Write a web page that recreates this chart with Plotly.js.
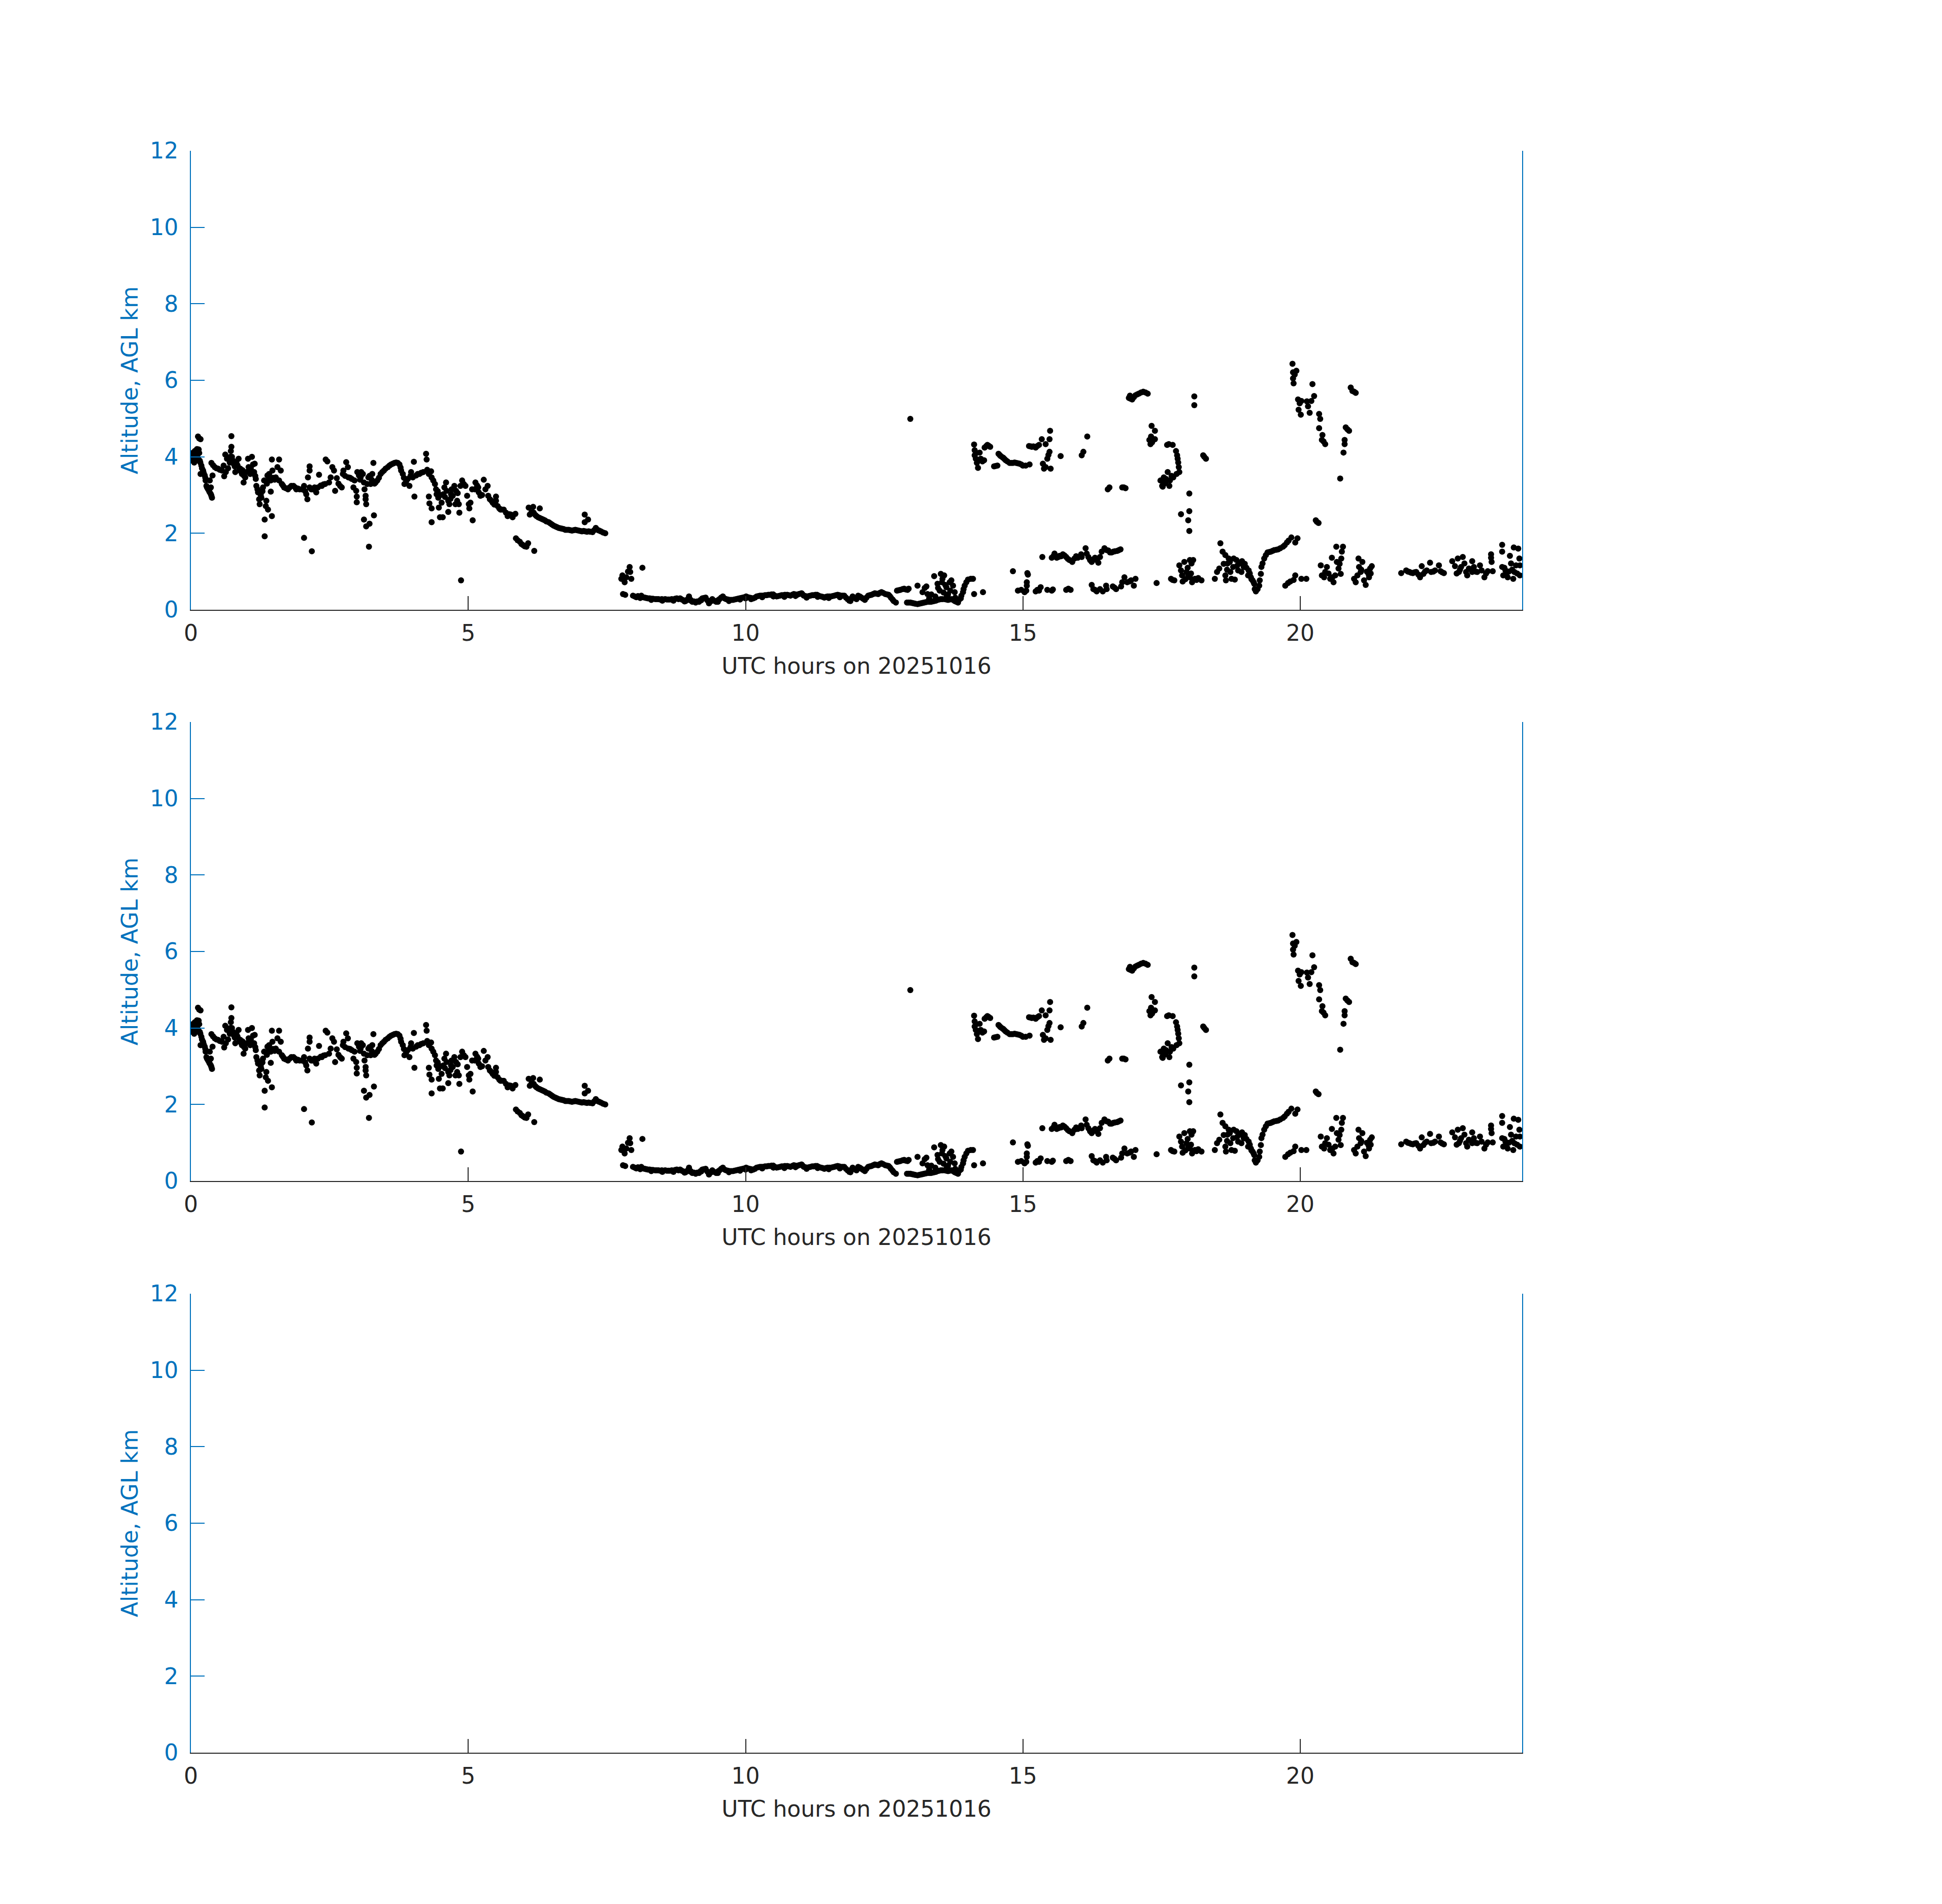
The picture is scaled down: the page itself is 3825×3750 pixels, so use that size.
<!DOCTYPE html>
<html>
<head>
<meta charset="utf-8">
<script src="https://cdn.plot.ly/plotly-3.0.1.min.js"></script>
<style>html,body{margin:0;padding:0;background:#fff;}#chart{width:3825px;height:3750px;}</style>
</head>
<body>
<div id="chart"></div>
<script>
// ---- Data: [UTC hour, altitude AGL km] pairs ----
const cloudA = [
[0.01,4.0],[0.02,3.9],[0.03,4.1],[0.04,3.95],[0.05,4.05],[0.06,3.85],[0.07,4.15],[0.08,4.0],[0.09,3.9],[0.10,4.1],
[0.11,4.2],[0.12,4.05],[0.13,3.95],[0.14,4.19],[0.15,4.1],[0.16,3.9],[0.128,4.53],[0.15,4.48],[0.174,4.46],[0.17,3.85],
[0.189,3.77],[0.20,3.70],[0.22,3.64],[0.23,3.58],[0.25,3.51],[0.26,3.45],[0.265,3.38],[0.28,3.24],[0.29,3.2],[0.31,3.15],
[0.33,3.1],[0.34,3.07],[0.36,3.02],[0.37,2.98],[0.38,2.93],[0.174,3.55],[0.34,3.38],[0.39,3.51],[0.36,3.2],
[0.37,3.84],[0.40,3.78],[0.43,3.73],[0.46,3.70],[0.49,3.69],[0.52,3.66],[0.56,3.64],[0.60,3.49],[0.59,3.77],[0.62,4.06],
[0.65,3.95],[0.63,3.6],[0.67,3.7],[0.70,3.85],[0.73,4.54],[0.73,4.26],[0.72,4.15],[0.71,4.0],[0.74,4.0],[0.76,3.9],
[0.77,3.82],[0.79,3.75],[0.80,3.6],[0.82,3.85],[0.84,3.78],[0.86,3.95],[0.87,3.7],[0.89,3.69],[0.90,3.62],[0.92,3.55],
[0.93,3.65],[0.95,3.33],[0.96,3.5],[0.98,3.46],[1.0,3.6],[1.03,3.95],[1.04,3.73],[1.05,3.65],[1.07,3.55],[1.08,3.7],
[1.10,4.0],[1.12,3.8],[1.14,3.6],[1.15,3.82],[1.16,3.5],[1.17,3.42],
[1.18,3.24],[1.20,3.15],[1.21,3.07],[1.23,2.89],[1.24,2.76],[1.26,3.0],[1.27,2.93],[1.29,3.1],[1.30,3.2],[1.32,3.38],
[1.33,2.36],[1.33,1.92],[1.35,2.71],[1.36,2.85],[1.37,3.3],[1.39,2.62],[1.38,3.51],[1.41,3.55],[1.40,3.4],[1.46,2.45],
[1.44,3.09],[1.46,3.93],[1.47,3.64],[1.44,3.38],[1.48,3.45],
[1.51,3.4],[1.53,3.46],[1.56,3.73],[1.59,3.93],[1.62,3.64],[1.59,3.38],[1.64,3.29],[1.66,3.25],[1.68,3.2],[1.71,3.18],
[1.75,3.15],[1.78,3.2],[1.81,3.24],[1.85,3.24],[1.88,3.2],[1.90,3.15],[1.93,3.17],[1.96,3.15],[2.0,3.15],[2.04,3.24],
[2.04,1.88],[2.06,3.1],[2.08,3.02],[2.10,2.89],[2.11,3.46],[2.14,3.75],[2.14,3.64],[2.18,1.53],[2.14,3.2],[2.17,3.15],
[2.2,3.15],[2.23,3.2],[2.26,3.07],[2.29,3.2],[2.31,3.53],[2.34,3.25],[2.36,3.24],[2.39,3.28],[2.42,3.29],[2.43,3.93],
[2.46,3.88],[2.49,3.33],[2.52,3.46],[2.55,3.73],[2.58,3.64],[2.60,3.11],[2.63,3.44],[2.66,3.3],[2.69,3.24],[2.72,3.2],
[2.74,3.55],[2.75,3.64],[2.78,3.5],[2.80,3.86],[2.83,3.73],[2.84,3.46],[2.87,3.45],[2.90,3.42],[2.93,3.2],[2.95,3.38],
[2.98,3.11],[2.99,2.96],[2.99,2.81],[3.0,3.6],[3.03,3.51],[3.05,3.4],[3.06,3.46],[3.07,3.6],[3.10,3.55],[3.12,3.33],
[3.13,3.15],[3.15,2.98],[3.16,2.76],[3.15,2.89],[3.12,2.36],[3.16,2.18],[3.22,2.25],[3.21,1.65],[3.30,2.47],[3.27,3.55],
[3.29,3.84],[3.24,3.29],[3.20,3.46],[3.18,3.29],[3.26,3.4],[3.22,3.5],
[3.31,3.3],[3.33,3.33],[3.36,3.38],[3.39,3.45],[3.42,3.55],[3.45,3.6],[3.48,3.64],[3.51,3.69],[3.55,3.73],[3.58,3.77],
[3.61,3.80],[3.64,3.82],[3.67,3.84],[3.70,3.85],[3.73,3.84],[3.76,3.80],[3.78,3.72],[3.79,3.64],[3.82,3.55],[3.85,3.29],
[3.84,3.45],[3.88,3.35],[3.91,3.42],[3.94,3.24],[3.96,3.5],
[3.97,3.60],[4.0,3.46],[4.02,3.87],[4.03,2.96],[4.06,3.51],[4.09,3.55],[4.12,3.55],[4.15,3.58],[4.19,3.6],[4.24,4.08],
[4.25,3.93],[4.26,3.66],[4.29,3.55],[4.33,3.62],[4.34,3.46],[4.37,3.38],[4.40,3.29],[4.42,3.15],[4.43,3.02],[4.29,2.96],
[4.30,2.78],[4.34,2.65],[4.34,2.29],[4.46,2.93],[4.47,2.67],[4.49,2.42],[4.54,2.42],[4.52,2.80],[4.55,3.02],[4.60,3.33],
[4.61,3.11],[4.64,2.85],[4.64,2.56],[4.66,2.76],[4.69,3.02],[4.72,2.98],[4.75,3.24],[4.78,3.11],[4.77,2.76],[4.84,2.54],
[4.83,2.76],[4.80,2.85],[4.87,0.77],[4.86,3.24],[4.89,3.38],[4.92,3.29],[4.95,3.24],[4.98,2.98],[5.01,2.76],[5.02,2.65],
[5.04,2.80],[5.08,2.34],[5.07,3.15],[5.12,3.15],[5.13,3.33],[5.16,3.25],[5.18,3.2],[5.19,3.07],[5.22,2.98],[5.25,3.0],
[5.28,3.4],[5.31,3.15],[5.35,3.24],[5.36,2.98],[5.39,2.89],[5.42,2.85],[5.44,2.80],[5.47,2.75],[5.50,2.96],[5.50,2.85],
[5.53,2.71],[5.56,2.65],[5.58,2.62],[5.61,2.62],[5.64,2.62],[5.68,2.54],[5.71,2.45],[5.74,2.5],[5.77,2.49],[5.80,2.42],
[5.85,2.51],[4.45,3.1],[4.5,3.0],[4.58,2.95],[4.68,2.9],[4.57,3.2],[4.7,3.15],[4.81,3.05],
[5.86,1.87],[5.89,1.82],[5.93,1.78],[5.96,1.72],[5.99,1.69],[6.02,1.66],[6.05,1.65],[6.08,1.74],[6.19,1.54],
[6.09,2.67],[6.11,2.49],[6.14,2.55],[6.17,2.69],[6.18,2.54],[6.21,2.48],[6.29,2.65],[6.23,2.45],[6.26,2.42],[6.29,2.40],
[6.32,2.38],[6.35,2.36],[6.38,2.34],[6.41,2.31],[6.45,2.29],[6.48,2.26],[6.51,2.23],[6.54,2.2],[6.57,2.18],[6.60,2.16],
[6.63,2.14],[6.66,2.13],[6.69,2.12],[6.72,2.11],[6.75,2.09],[6.78,2.09],[6.81,2.09],[6.84,2.08],[6.87,2.07],[6.90,2.08],
[6.93,2.09],[6.96,2.08],[6.99,2.07],[7.02,2.06],[7.05,2.05],[7.10,2.49],[7.16,2.36],[7.10,2.29],[7.08,2.06],[7.11,2.05],
[7.14,2.04],[7.17,2.05],[7.20,2.04],[7.24,2.03],[7.27,2.08],[7.30,2.14],[7.33,2.09],[7.36,2.07],[7.39,2.05],[7.43,2.02],
[7.47,2.0]
];

const cloudB = [
[7.76,0.81],[7.79,0.41],[7.78,0.9],[7.82,0.72],[7.85,0.85],[7.88,1.0],[7.91,1.12],[7.92,0.99],[7.94,0.81],[7.97,0.37],
[7.83,0.39],[8.14,1.10],
[8.0,0.35],[8.03,0.33],[8.06,0.36],[8.09,0.34],[8.12,0.37],[8.15,0.33],[8.18,0.32],[8.21,0.31],[8.24,0.30],[8.27,0.30],
[8.30,0.29],[8.33,0.29],[8.37,0.28],[8.40,0.28],[8.43,0.28],[8.46,0.27],[8.49,0.28],[8.52,0.27],[8.55,0.28],[8.58,0.27],
[8.61,0.27],[8.64,0.27],[8.67,0.28],[8.70,0.27],[8.73,0.29],[8.76,0.30],[8.79,0.28],[8.82,0.30],[8.85,0.27],[8.88,0.25],
[8.92,0.23],[8.95,0.27],[8.98,0.35],[9.01,0.26],[9.04,0.21],[9.07,0.22],[9.10,0.19],[9.13,0.22],[9.16,0.21],[9.19,0.26],
[9.22,0.30],[9.25,0.31],[9.28,0.32],[9.31,0.25],[9.34,0.17],[9.37,0.22],[9.40,0.28],[9.43,0.24],[9.47,0.21],[9.50,0.25],
[9.53,0.28],[9.56,0.32],[9.59,0.35],[9.62,0.30],[9.65,0.28],[9.68,0.27],[9.71,0.26],[9.74,0.26],[9.77,0.26],[9.80,0.27],
[9.83,0.28],[9.86,0.29],[9.89,0.30],[9.92,0.31],[9.95,0.32],[9.98,0.33],[10.01,0.35],[10.04,0.33],[10.07,0.32],[10.10,0.31],
[10.14,0.30],[10.17,0.32],[10.20,0.35],[10.23,0.36],[10.26,0.37],[10.29,0.37],[10.32,0.37],[10.35,0.38],[10.38,0.38],[10.41,0.39],
[10.44,0.39],[10.47,0.40],[10.50,0.40],[10.53,0.37],[10.56,0.35],[10.59,0.36],[10.62,0.37],[10.65,0.38],[10.68,0.38],[10.71,0.39],
[10.75,0.39],[10.78,0.38],[10.81,0.37],[10.84,0.39],[10.87,0.41],[10.90,0.40],[10.93,0.39],[10.96,0.41],[10.99,0.42],[11.01,0.43],
[11.03,0.40],[11.05,0.37],[11.08,0.36],[11.11,0.35],[11.14,0.36],[11.17,0.37],[11.20,0.38],[11.23,0.38],[11.26,0.39],[11.29,0.39],
[11.32,0.37],[11.36,0.35],[11.39,0.34],[11.42,0.32],[11.45,0.34],[11.48,0.35],[11.51,0.35],[11.54,0.35],[11.57,0.36],[11.60,0.37],
[11.63,0.38],[11.66,0.39],[11.69,0.38],[11.72,0.37],[11.75,0.37],[11.78,0.37],[11.81,0.32],[11.84,0.28],[11.87,0.24],[11.89,0.23],
[11.91,0.30],[11.93,0.35],[11.96,0.31],[12.00,0.28],
[8.1,0.31],[8.3,0.26],[8.5,0.24],[8.7,0.24],[8.9,0.22],[9.2,0.25],[9.5,0.21],[9.7,0.23],[9.9,0.27],[10.1,0.28],
[10.3,0.33],[10.5,0.35],[10.7,0.34],[10.9,0.36],[11.1,0.32],[11.3,0.34],[11.5,0.31],[11.7,0.33],[10.0,0.30],[9.0,0.25],
[12.03,0.37],[12.06,0.35],[12.09,0.32],[12.12,0.29],[12.15,0.26],[12.18,0.32],[12.21,0.37],[12.24,0.38],[12.27,0.39],[12.30,0.41],
[12.33,0.43],[12.36,0.42],[12.39,0.41],[12.42,0.44],[12.45,0.46],[12.48,0.44],[12.52,0.41],[12.55,0.40],[12.58,0.39],[12.60,0.36],
[12.62,0.32],[12.65,0.27],[12.67,0.23],[12.71,0.19],[12.73,0.50],[12.76,0.51],[12.79,0.52],[12.83,0.54],[12.86,0.55],[12.89,0.53],
[12.92,0.52],[12.94,0.55],
[12.91,0.19],[12.94,0.19],[12.97,0.19],[13.00,0.18],[13.03,0.17],[13.06,0.16],[13.10,0.15],[13.13,0.16],[13.16,0.17],[13.19,0.18],
[13.22,0.19],[13.25,0.20],[13.28,0.21],[13.31,0.21],[13.34,0.21],[13.37,0.22],[13.40,0.23],[13.43,0.24],[13.46,0.26],[13.49,0.27],
[13.52,0.28],[13.55,0.28],[13.59,0.28],[13.62,0.27],[13.65,0.26],[13.68,0.27],[13.71,0.28],[13.74,0.26],[13.77,0.23],[13.80,0.21],
[13.83,0.19],
[13.10,0.63],[13.19,0.46],[13.23,0.57],[13.26,0.61],[13.28,0.41],[13.31,0.30],[13.40,0.88],[13.46,0.68],[13.47,0.57],[13.52,0.94],
[13.55,0.81],[13.58,0.90],[13.54,0.72],[13.62,0.59],[13.63,0.37],[13.68,0.72],[13.69,0.50],[13.71,0.77],[13.74,0.63],[13.77,0.46],
[13.78,0.32],[13.86,0.28],[13.89,0.37],[13.92,0.46],[13.93,0.54],[13.95,0.63],[13.98,0.72],[14.01,0.79],[14.06,0.81],[14.10,0.81],
[14.12,0.41],[14.28,0.46],[13.35,0.4],[13.42,0.35],[13.57,0.45],[13.65,0.4],[13.88,0.3],[13.60,0.65],[13.50,0.50]
];

const cloudC = [
[12.97,4.99],
[14.12,4.32],[14.13,4.17],[14.13,4.04],[14.15,3.95],[14.17,3.84],[14.19,3.71],[14.16,4.1],[14.18,3.9],[14.22,4.11],[14.24,3.95],
[14.27,3.88],[14.30,3.91],[14.31,4.24],[14.34,4.28],[14.36,4.31],[14.41,4.26],[14.38,4.29],[14.48,3.75],[14.51,3.76],[14.54,3.77],
[14.56,4.08],[14.58,4.05],[14.60,4.02],[14.63,3.99],[14.65,3.97],[14.67,3.94],[14.69,3.91],[14.72,3.88],[14.76,3.84],[14.79,3.84],
[14.82,3.84],[14.85,3.85],[14.88,3.84],[14.91,3.83],[14.94,3.82],[14.97,3.80],[15.00,3.77],[15.05,3.77],[15.12,3.80],
[15.11,4.28],[15.14,4.27],[15.16,4.26],[15.19,4.27],[15.23,4.24],[15.26,4.28],[15.29,4.31],[15.34,4.46],[15.41,4.33],[15.48,4.46],
[15.49,4.68],[15.48,4.13],[15.44,3.95],[15.36,3.82],[15.38,3.69],[15.41,3.73],[15.50,3.69],[15.46,4.05],[15.68,4.02],
[16.06,4.04],[16.16,4.53],[16.09,4.13],
[16.53,3.15],[16.56,3.20],[16.79,3.20],[16.85,3.18],[16.82,3.2],
[16.91,5.54],[16.94,5.52],[16.97,5.50],[17.00,5.56],[17.03,5.61],[17.06,5.63],[17.09,5.65],[17.13,5.68],[17.17,5.70],[17.21,5.68],
[17.25,5.65],[16.93,5.6],
[18.09,5.58],[18.09,5.35],
[17.32,4.81],[17.38,4.68],[17.31,4.53],[17.28,4.44],[17.34,4.44],[17.38,4.46],[17.30,4.33],[17.33,4.38],
[17.60,4.31],[17.63,4.33],[17.70,4.31],[17.76,4.15],[17.78,4.04],[17.79,3.95],[17.81,3.73],[17.82,3.60],[17.80,3.85],
[18.25,4.04],[18.30,3.95],[18.27,4.0],
[17.48,3.38],[17.51,3.24],[17.54,3.46],[17.57,3.33],[17.61,3.60],[17.65,3.38],[17.71,3.46],[17.77,3.55],[17.64,3.24],[17.52,3.22],
[17.58,3.42],[17.68,3.5],[17.55,3.3],
[18.00,3.04],[17.85,2.50],[18.00,2.58],[17.98,2.34],[18.00,2.06],
[19.86,6.43],[19.93,6.25],[19.87,6.21],[19.87,6.05],[19.88,5.92],[19.90,6.15],[19.96,5.50],[20.02,5.46],[19.97,5.23],[20.01,5.10],
[19.99,5.4],
[20.22,5.90],[20.25,5.59],[20.20,5.46],[20.14,5.32],[20.17,5.15],[20.12,5.45],[20.34,5.12],[20.36,4.99],[20.34,4.75],[20.40,4.57],
[20.39,4.44],[20.45,4.33],[20.42,4.4],
[20.91,5.81],[20.94,5.72],[20.97,5.70],[21.00,5.67],
[20.82,4.77],[20.85,4.72],[20.88,4.68],[20.80,4.44],[20.80,4.33],[20.78,4.11],[20.72,3.43],
[20.28,2.34],[20.33,2.27],[20.30,2.3]
];

const cloudD = [
[14.82,1.01],[15.08,0.96],[15.09,0.92],[15.07,0.72],[15.07,0.63],[14.91,0.50],[14.97,0.52],[15.03,0.46],[15.06,0.5],[15.23,0.48],
[15.26,0.52],[15.32,0.59],[15.29,0.5],[15.44,0.52],[15.52,0.50],[15.54,0.53],[15.78,0.52],[15.86,0.52],[15.82,0.55],
[15.35,1.38],[15.52,1.36],[15.57,1.47],[15.61,1.36],[15.66,1.41],[15.69,1.4],[15.72,1.45],[15.75,1.42],[15.78,1.38],[15.84,1.30],
[15.89,1.25],[15.93,1.34],[15.99,1.36],[16.06,1.38],[16.05,1.45],[16.13,1.61],[16.15,1.47],[16.18,1.38],[16.21,1.3],[16.24,1.25],
[16.30,1.36],[16.36,1.23],[16.39,1.38],[16.42,1.52],[16.47,1.61],[16.51,1.56],[16.54,1.55],[16.57,1.50],[16.63,1.52],[16.66,1.53],
[16.70,1.54],[16.73,1.56],[16.76,1.58],[15.55,1.4],[15.64,1.38],[15.81,1.33],[15.96,1.4],[16.27,1.32],[16.33,1.3],[16.60,1.5],
[16.24,0.65],[16.27,0.54],[16.33,0.48],[16.30,0.52],[16.39,0.54],[16.44,0.48],[16.50,0.63],[16.51,0.54],[16.62,0.61],[16.68,0.54],
[16.65,0.58],[16.77,0.61],[16.79,0.72],[16.83,0.85],[16.88,0.72],[16.95,0.77],[16.92,0.74],[17.00,0.63],[17.03,0.81],[17.41,0.70],
[17.67,0.81],[17.70,0.78],[17.73,0.77],[17.82,1.16],[17.85,1.03],[17.87,0.90],[17.88,0.74],[17.91,1.25],[17.95,0.99],[17.98,0.90],
[18.01,1.30],[18.04,1.21],[18.05,0.72],[18.07,1.30],[18.01,0.85],[18.10,0.81],[18.16,0.83],[18.22,0.77],[17.93,0.8],[17.97,1.1],
[18.03,0.95],[18.13,0.78],
[18.46,0.81],[18.50,0.99],[18.54,1.08],[18.56,1.74],[18.60,1.52],[18.65,1.43],[18.65,0.90],[18.66,0.77],[18.69,1.21],[18.71,1.34],
[18.74,0.99],[18.76,0.81],[18.79,1.12],[18.80,1.34],[18.82,0.79],[18.85,1.30],[18.88,1.03],[18.91,1.21],[18.94,0.99],[18.95,1.27],
[18.98,1.12],[19.03,1.10],[19.06,0.90],[19.07,1.03],[19.11,0.85],[19.14,0.77],[19.17,0.68],[19.18,0.54],[19.20,0.48],[19.21,0.52],
[19.23,0.54],[19.26,0.63],[19.27,0.77],[19.29,0.94],[19.30,1.12],[19.32,1.21],[19.35,1.34],[19.38,1.43],[19.41,1.50],[19.44,1.51],
[19.47,1.52],[19.50,1.54],[19.53,1.56],[19.57,1.57],[19.60,1.58],[19.64,1.61],[19.69,1.65],[19.72,1.69],[19.76,1.76],[19.79,1.81],
[19.84,1.89],[19.91,1.76],[19.95,1.87],[18.62,1.2],[18.68,1.05],[18.73,1.25],[18.86,1.15],[19.0,1.2],[19.09,0.95],[19.12,0.80],
[19.16,0.72],
[19.73,0.63],[19.82,0.74],[19.91,0.90],[20.02,0.81],[20.11,0.81],[19.78,0.7],[19.88,0.78],
[20.37,1.16],[20.39,0.90],[20.45,0.99],[20.48,1.12],[20.57,1.36],[20.54,0.81],[20.60,0.72],[20.65,1.65],[20.66,1.25],[20.69,1.08],
[20.73,0.94],[20.75,1.52],[20.77,1.65],[20.74,1.34],[20.63,0.90],[20.51,0.95],[20.58,0.85],[20.71,1.2],[20.43,0.85],
[20.97,0.81],[21.00,0.72],[21.05,1.34],[21.06,1.12],[21.09,0.99],[21.12,1.25],[21.15,0.77],[21.18,0.65],[21.23,0.94],[21.26,1.08],
[21.29,1.14],[21.24,0.85],[21.03,0.9],[21.1,1.05],[21.2,1.0],[21.27,0.95],
[21.82,0.96],[21.91,1.03],[21.94,1.0],[21.97,0.99],[22.00,0.97],[22.03,0.96],[22.06,0.98],[22.09,0.99],[22.13,0.92],[22.16,0.85],
[22.19,1.14],[22.22,0.94],[22.25,1.0],[22.28,1.03],[22.34,1.23],[22.36,0.99],[22.40,1.0],[22.43,1.03],[22.50,1.16],[22.53,1.01],
[22.56,0.98],[22.59,0.96],
[22.74,1.27],[22.79,1.14],[22.84,1.34],[22.86,0.99],[22.90,1.12],[22.93,1.38],[22.96,1.21],[22.99,0.99],[23.01,0.90],[23.04,1.08],
[23.10,1.27],[23.10,0.99],[23.13,1.12],[23.16,1.0],[23.19,0.99],[23.24,1.16],[23.27,1.03],[23.32,0.85],[23.35,0.95],[23.38,1.01],
[23.44,1.45],[23.44,1.36],[23.45,1.25],[23.47,1.01],[22.88,1.05],[22.82,0.95],
[23.64,1.70],[23.64,1.52],[23.64,1.12],[23.66,0.90],[23.70,1.03],[23.74,0.85],[23.78,1.41],[23.80,1.21],[23.85,1.63],[23.86,0.99],
[23.89,1.16],[23.93,1.60],[23.95,1.34],[23.96,0.90],[23.96,1.16],[23.84,0.81],[23.71,0.94],[23.76,1.0],[23.82,1.05],[23.91,0.95],
[23.68,1.1]
];

const xTickVals = [0, 5, 10, 15, 20];
const yTickVals = [0, 2, 4, 6, 8, 10, 12];
const xTitleText = 'UTC hours on 20251016';
const yTitleText = 'Altitude, AGL km';

// ---- Build traces ----
const allPts = cloudA.concat(cloudB, cloudC, cloudD);
const hrs = allPts.map(p => p[0]);
const alt = allPts.map(p => p[1]);

const BLUE = '#0072BD';
const DARK = '#262626';
const FONT = 'DejaVu Sans, sans-serif';

function dots(xa, ya, xs, ys) {
  return {type: 'scatter', mode: 'markers', x: xs, y: ys, xaxis: xa, yaxis: ya,
          marker: {color: '#000000', size: 12, line: {width: 0}}, hoverinfo: 'skip', showlegend: false};
}
const traces = [
  dots('x', 'y', hrs, alt),
  dots('x2', 'y2', hrs, alt),
  dots('x3', 'y3', [], []),
  dots('x', 'y4', [], []),
  dots('x2', 'y5', [], []),
  dots('x3', 'y6', [], [])
];

const xDom = [376/3825, 2998/3825];
const yDoms = [[1 - 1201/3750, 1 - 297/3750], [1 - 2326/3750, 1 - 1422/3750], [1 - 3452/3750, 1 - 2548/3750]];

function xAxis(anchor) {
  return {domain: xDom, anchor: anchor, range: [0, 24], tickvals: xTickVals, ticktext: xTickVals.map(String),
    ticks: 'inside', ticklen: 27, tickwidth: 2, tickcolor: DARK, showline: true, linecolor: DARK, linewidth: 2,
    showgrid: false, zeroline: false, automargin: false, ticklabelstandoff: 6,
    tickfont: {family: FONT, size: 44, color: DARK},
    title: {text: xTitleText, font: {family: FONT, size: 44, color: DARK}, standoff: 25}};
}
function yAxis(anchor, dom) {
  return {domain: dom, anchor: anchor, range: [0, 12], tickvals: yTickVals, ticktext: yTickVals.map(String),
    ticks: 'inside', ticklen: 27, tickwidth: 2, tickcolor: BLUE, showline: true, linecolor: BLUE, linewidth: 2,
    showgrid: false, zeroline: false, automargin: false, ticklabelstandoff: 14,
    tickfont: {family: FONT, size: 44, color: BLUE},
    title: {text: yTitleText, font: {family: FONT, size: 44, color: BLUE}, standoff: 10}};
}
function rAxis(over, anchor, dom) {
  return {domain: dom, overlaying: over, anchor: anchor, side: 'right', range: [0, 12], showline: true,
    linecolor: BLUE, linewidth: 2, ticks: '', showticklabels: false, showgrid: false, zeroline: false, automargin: false};
}

const layout = {
  width: 3825, height: 3750, paper_bgcolor: '#ffffff', plot_bgcolor: '#ffffff',
  margin: {l: 0, r: 0, t: 0, b: 0, pad: 0}, showlegend: false,
  font: {family: FONT},
  xaxis: xAxis('y'), yaxis: yAxis('x', yDoms[0]),
  xaxis2: xAxis('y2'), yaxis2: yAxis('x2', yDoms[1]),
  xaxis3: xAxis('y3'), yaxis3: yAxis('x3', yDoms[2]),
  yaxis4: rAxis('y', 'x', yDoms[0]),
  yaxis5: rAxis('y2', 'x2', yDoms[1]),
  yaxis6: rAxis('y3', 'x3', yDoms[2])
};

Plotly.newPlot('chart', traces, layout, {staticPlot: true, displayModeBar: false});
</script>
</body>
</html>
